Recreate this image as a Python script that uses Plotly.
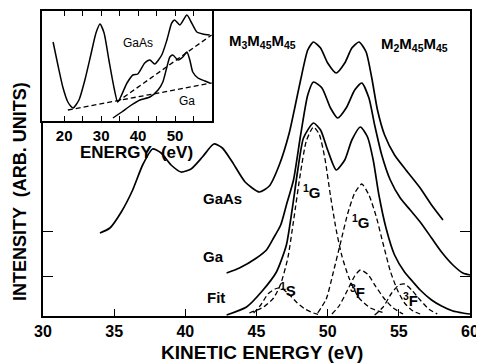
import plotly.graph_objects as go

# ---------------- main panel data (kinetic energy in eV, intensity in arb. units) ----------------
gaas_x = [34.0, 34.7, 35.5, 36.3, 37.0, 37.7, 38.3, 39.0, 39.7, 40.4, 41.2, 42.0, 42.6, 43.3, 44.2,
          45.2, 45.9, 46.6, 47.3, 47.7, 48.1, 48.6, 49.0, 49.5, 50.0, 50.6, 51.2, 51.7, 52.2, 52.7,
          53.1, 53.5, 54.0, 54.7, 55.5, 56.5, 57.3, 58.1]
gaas_y = [83, 88, 104, 126, 151, 167, 163, 151, 144, 147, 159, 172, 168, 154, 134,
          124, 130, 151, 183, 209, 236, 266, 274, 268, 253, 243, 253, 268, 274, 264,
          238, 206, 181, 161, 146, 128, 111, 96]

ga_x = [42.9, 43.8, 45.0, 45.7, 46.2, 46.7, 47.1, 47.6, 48.1, 48.6, 49.0, 49.6, 50.2, 50.7, 51.3,
        51.9, 52.4, 52.9, 53.3, 53.8, 54.4, 55.1, 55.8, 56.5, 57.3, 58.0, 58.8, 59.5, 60.0]
ga_y = [43, 48, 58, 66, 78, 91, 111, 136, 181, 221, 234, 228, 208, 198, 208,
        226, 233, 218, 191, 161, 136, 118, 106, 94, 78, 64, 51, 43, 41]

fit_x = [42.9, 44.3, 45.4, 46.4, 47.1, 47.5, 47.9, 48.3, 49.0, 49.5, 50.0, 50.6, 51.2, 51.7,
         52.3, 52.8, 53.2, 53.6, 54.1, 54.7, 55.4, 56.0, 56.5, 57.3, 58.0, 58.8, 59.5, 60.0]
fit_y = [1, 9, 25, 44, 71, 106, 146, 178, 193, 186, 166, 146, 156, 176,
         189, 179, 156, 121, 88, 61, 44, 34, 26, 16, 10, 5, 3, 2]

g1a_x = [44.5, 45.5, 46.2, 46.7, 47.2, 47.6, 48.1, 48.5, 49.0, 49.4, 49.8, 50.2, 50.6, 51.0,
         51.5, 52.2, 53.0, 54.0]
g1a_y = [3, 9, 18, 32, 58, 95, 144, 175, 189, 182, 158, 120, 86, 60, 38, 18, 8, 3]

g1b_x = [49.3, 49.9, 50.4, 50.9, 51.4, 51.9, 52.4, 52.9, 53.4, 53.9, 54.4, 54.9, 55.4, 56.0, 56.7]
g1b_y = [3, 17, 44, 73, 102, 123, 132, 121, 100, 72, 45, 26, 13, 5, 1]

s1_x = [44.8, 45.3, 45.8, 46.3, 46.7, 47.2, 47.8, 48.4, 49.0, 49.5]
s1_y = [3, 11, 22, 27, 28, 23, 14, 7, 3, 1]

f3a_x = [50.3, 50.8, 51.4, 51.9, 52.3, 52.8, 53.4, 54.0, 54.6, 55.3]
f3a_y = [2, 10, 26, 40, 46, 42, 29, 17, 8, 2]

f3b_x = [53.3, 53.9, 54.5, 55.0, 55.4, 55.9, 56.5, 57.1, 57.7]
f3b_y = [1, 9, 23, 31, 32, 26, 16, 7, 2]

main_xticks = [30, 35, 40, 45, 50, 55, 60]
main_yticks = [40, 85]

# ---------------- inset data ----------------
in_gaas_x = [17.0, 18.3, 19.7, 21.0, 22.4, 24.0, 25.6, 27.2, 28.6, 29.7, 30.8, 32.1, 33.5, 34.5,
             37.0, 38.6, 39.9, 41.8, 43.2, 44.5, 46.4, 47.8, 49.1, 49.9, 51.3, 53.2, 54.5, 55.9,
             57.5, 59.4]
in_gaas_y = [79, 56, 33, 19, 13, 21, 41, 66, 88, 97, 88, 61, 33, 19,
             38, 46, 47, 58, 61, 57, 66, 81, 98, 101, 96, 106, 98, 89, 87, 86]

in_ga_x = [33.2, 35.6, 37.8, 40.5, 43.2, 45.4, 46.7, 47.8, 48.6, 49.4, 50.8, 52.1, 53.2, 54.0,
           54.8, 56.2, 58.1, 59.4]
in_ga_y = [3, 9, 15, 21, 24, 31, 39, 54, 64, 66, 61, 64, 69, 61, 49, 43, 40, 38]

in_bg1_x = [21.0, 59.9]
in_bg1_y = [11, 38]
in_bg2_x = [34.3, 59.9]
in_bg2_y = [19, 86]

inset_xticks = [20, 25, 30, 35, 40, 45, 50, 55]
inset_xticktext = ["20", "", "30", "", "40", "", "50", ""]

FONT = "Liberation Sans, Arial, Helvetica, sans-serif"
# the page body keeps the browser's default 8 px margin, so the figure is drawn
# 8 px in from the window's top-left corner; size it to fill the rest.
OFF = 8
W, H = 484 - OFF, 364 - OFF


def px(xw):
    return (xw - OFF) / W


def py(yw):
    return 1 - (yw - OFF) / H


fig = go.Figure()


def add_line(x, y, dashed=False, axes=("x", "y"), width=1.7):
    fig.add_trace(go.Scatter(
        x=x, y=y, mode="lines", xaxis=axes[0], yaxis=axes[1],
        line=dict(color="black", width=width if not dashed else 1.3,
                  dash="5px,3px" if dashed else "solid",
                  shape="spline", smoothing=0.6),
        showlegend=False, hoverinfo="skip"))


add_line(gaas_x, gaas_y)
add_line(ga_x, ga_y)
add_line(fit_x, fit_y)
for cx, cy in [(g1a_x, g1a_y), (g1b_x, g1b_y), (s1_x, s1_y), (f3a_x, f3a_y), (f3b_x, f3b_y)]:
    add_line(cx, cy, dashed=True)

add_line(in_gaas_x, in_gaas_y, axes=("x2", "y2"), width=1.5)
add_line(in_ga_x, in_ga_y, axes=("x2", "y2"), width=1.5)
for bx, by in [(in_bg1_x, in_bg1_y), (in_bg2_x, in_bg2_y)]:
    fig.add_trace(go.Scatter(x=bx, y=by, mode="lines", xaxis="x2", yaxis="y2",
                             line=dict(color="black", width=1.3, dash="5px,3px"),
                             showlegend=False, hoverinfo="skip"))

fig.update_layout(
    width=W, height=H, margin=dict(l=0, r=0, t=0, b=0),
    paper_bgcolor="white", plot_bgcolor="white",
    xaxis=dict(domain=[px(43), px(470)], range=[30, 60], tickvals=main_xticks,
               ticks="inside", ticklen=7, tickwidth=1.4, tickcolor="black",
               showline=True, linecolor="black", linewidth=1.8, mirror=True,
               showgrid=False, zeroline=False, anchor="y", automargin=False,
               tickfont=dict(family=FONT, size=16, color="black", weight="bold")),
    yaxis=dict(domain=[py(316), py(11)], range=[0, 305], tickvals=main_yticks,
               ticks="inside", ticklen=10, tickwidth=1.4, tickcolor="black",
               showline=True, linecolor="black", linewidth=1.8, mirror="ticks",
               showticklabels=False, showgrid=False, zeroline=False, anchor="x",
               automargin=False),
    xaxis2=dict(domain=[px(42), px(212)], range=[14, 60], tickvals=inset_xticks,
                ticktext=inset_xticktext, ticks="inside", ticklen=5, tickwidth=1.3,
                tickcolor="black", showline=True, linecolor="black", linewidth=1.6,
                mirror="ticks", showgrid=False, zeroline=False, anchor="y2",
                automargin=False,
                tickfont=dict(family=FONT, size=15, color="black", weight="bold")),
    yaxis2=dict(domain=[py(121), py(11)], range=[0, 110], showticklabels=False,
                ticks="", showline=True, linecolor="black", linewidth=1.6, mirror=True,
                showgrid=False, zeroline=False, anchor="x2", automargin=False),
)

ann = []


def lab(text, x, y, size=15, xref="x", yref="y", bold=True, **kw):
    ann.append(dict(text=text, x=x, y=y, xref=xref, yref=yref, showarrow=False,
                    xanchor="center", yanchor="middle",
                    font=dict(family=FONT, size=size, color="black",
                              weight="bold" if bold else "normal"), **kw))


lab("M<sub>3</sub>M<sub>45</sub>M<sub>45</sub>", 45.4, 274, size=15)
lab("M<sub>2</sub>M<sub>45</sub>M<sub>45</sub>", 56.1, 271, size=15)
lab("GaAs", 42.6, 118, size=15)
lab("Ga", 42.0, 60, size=15)
lab("Fit", 42.15, 19, size=15)
lab("<sup>1</sup>G", 48.9, 125, size=15)
lab("<sup>1</sup>G", 52.35, 95, size=15)
lab("<sup>1</sup>S", 47.2, 27, size=15)
lab("<sup>3</sup>F", 52.1, 25, size=15)
lab("<sup>3</sup>F", 55.85, 17, size=15)
lab("GaAs", 39.9, 78, size=12, xref="x2", yref="y2", bold=False)
lab("Ga", 53.2, 20, size=12, xref="x2", yref="y2", bold=False)
lab("ENERGY  (eV)", px(136), py(152), size=17, xref="paper", yref="paper")
lab("KINETIC ENERGY (eV)", px(262), py(352), size=19, xref="paper", yref="paper")
lab("INTENSITY  (ARB. UNITS)", px(20), py(192), size=18, xref="paper", yref="paper",
    textangle=-90)
fig.update_layout(annotations=ann)

fig.write_html("out.html")
